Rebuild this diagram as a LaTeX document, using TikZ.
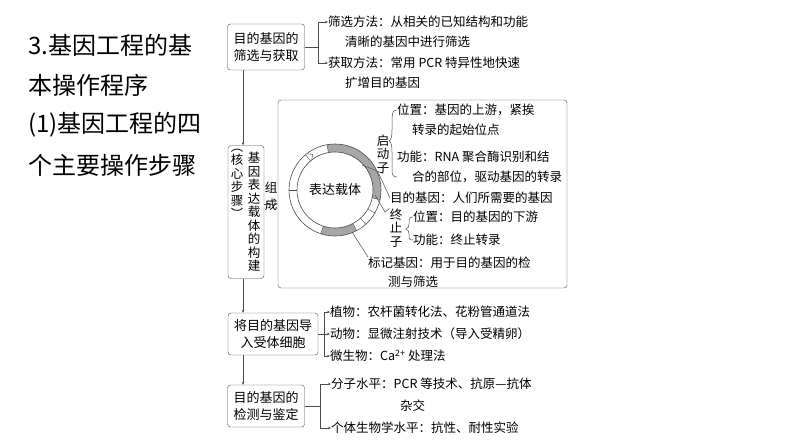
\documentclass[tikz,border=0pt]{standalone}
\usepackage{fontspec}
\setmainfont{Noto Sans CJK SC}
\usetikzlibrary{arrows.meta}
\begin{document}
\begin{tikzpicture}[x=1pt,y=-1pt,
  box/.style={draw=black!70,rounded corners=3pt,fill=white,inner sep=2pt,align=center,font=\fontsize{13}{17}\selectfont},
  txt/.style={anchor=west,inner sep=0pt,font=\fontsize{12.5}{15}\selectfont},
  ln/.style={draw=black!70,line width=0.5pt},
  arr/.style={ln,-{Stealth[length=3pt,width=2.5pt]}},
  vt/.style={inner sep=0pt,align=center,font=\fontsize{12.5}{13.5}\selectfont}]
\fill[white] (0,0) rectangle (794,447);
% title
\node[anchor=west,inner sep=0pt,font=\fontsize{24}{28}\selectfont] (t1) at (28,45) {3.基因工程的基};
\node[anchor=west,inner sep=0pt,font=\fontsize{24}{28}\selectfont] (t2) at (28,85) {本操作程序};
\node[anchor=west,inner sep=0pt,font=\fontsize{24}{28}\selectfont] (t3) at (28,125) {(1)基因工程的四};
\node[anchor=west,inner sep=0pt,font=\fontsize{24}{28}\selectfont] (t4) at (28,165) {个主要操作步骤};
% boxes
\coordinate (vx) at (243,0);
\node[box,minimum width=77pt,minimum height=46pt] (b1) at (266,47) {目的基因的\\筛选与获取};
\node[box,minimum width=36pt,minimum height=133pt] (b2) at (246,212) {};
\node[vt] (b2a) at (237,184) {︵\\核\\心\\步\\骤\\︶};
\node[vt] (b2b) at (254,212) {基\\因\\表\\达\\载\\体\\的\\构\\建};
\node[box,minimum width=90pt,minimum height=42pt] (b3) at (273,334) {将目的基因导\\入受体细胞};
\node[box,minimum width=77pt,minimum height=42pt] (b4) at (266,406) {目的基因的\\检测与鉴定};
\draw[arr] (b1.south -| vx) -- (b2.north -| vx);
\draw[arr] (b2.south -| vx) -- (b3.north -| vx);
\draw[arr] (b3.south -| vx) -- (b4.north -| vx);
% step 1 texts
\node[txt] (s1) at (328,22) {筛选方法：从相关的已知结构和功能};
\node[txt] (s1b) at (345,42) {清晰的基因中进行筛选};
\node[txt] (s2) at (328,63) {获取方法：常用 PCR 特异性地快速};
\node[txt] (s2b) at (345,83) {扩增目的基因};
\coordinate (j1) at (318,47);
\draw[ln] (b1.east) -- (j1);
\draw[arr] (j1) |- (s1.west);
\draw[arr] (j1) |- (s2.west);
% big box
\node[draw=black!70,rounded corners=3pt,minimum width=289pt,minimum height=188pt,inner sep=0pt] (big) at (422.5,194) {};
\node[vt,font=\fontsize{12.5}{17}\selectfont] (zc) at (271,196) {组\\成};
\coordinate (zy) at (0,204);
\draw[arr] (b2.east |- zy) -- (big.west |- zy);
% ring
\begin{scope}[shift={(335,190)},yscale=-1]
\fill[black!35] (100:46) arc (100:-12:46) -- (-12:38) arc (-12:100:38) -- cycle;
\fill[black!35] (-62:46) arc (-62:-108:46) -- (-108:38) arc (-108:-62:38) -- cycle;
\draw[black!70,line width=0.6pt] (0,0) circle (46) circle (38);
\foreach \a in {100,130,-12,-30,-48,-62,-108,180} \draw[black!70] (\a:38) -- (\a:46);
\draw[black!70,fill=white] (128:46) -- (122:42) -- (128:38);
\end{scope}
\node[inner sep=0pt,font=\fontsize{13}{15}\selectfont] (rl) at (335,190) {表达载体};
% promoter
\node[vt] (qd) at (383,154) {启\\动\\子};
\draw[ln] (397,110) .. controls (392,110) and (392,112) .. (392,130) .. controls (392,137) and (391,140) .. (389,141) .. controls (391,142) and (392,145) .. (392,152) -- (392,170) .. controls (392,175) and (393,177) .. (397,177);
\node[txt] (p1) at (397,110) {位置：基因的上游，紧挨};
\node[txt] (p2) at (412,130) {转录的起始位点};
\node[txt] (p3) at (397,157) {功能：RNA 聚合酶识别和结};
\node[txt] (p4) at (412,177) {合的部位，驱动基因的转录};
\draw[ln] (362,165) -- (qd.south);
% target gene
\node[txt] (tg) at (390,198) {目的基因：人们所需要的基因};
\draw[ln] (378,172) -- (tg.west);
% terminator
\node[vt] (zz) at (396,228) {终\\止\\子};
\draw[ln] (375,195) -- (385,212) -- (zz.north west);
\draw[ln] (413,217) .. controls (409,217) and (409,219) .. (409,224) .. controls (409,227) and (408,228) .. (406,229) .. controls (408,230) and (409,231) .. (409,234) .. controls (409,239) and (409,240) .. (413,240);
\node[txt] (e1) at (413,217) {位置：目的基因的下游};
\node[txt] (e2) at (413,240) {功能：终止转录};
% marker
\node[txt] (m1) at (368,263) {标记基因：用于目的基因的检};
\node[txt] (m2) at (388,282) {测与筛选};
\draw[ln] (352,232) -- (m1.north west);
% step 3
\node[txt] (c1) at (330,312) {植物：农杆菌转化法、花粉管通道法};
\node[txt] (c2) at (330,334) {动物：显微注射技术（导入受精卵）};
\node[txt] (c3) at (330,356) {微生物：Ca\textsuperscript{2+} 处理法};
\coordinate (j3) at (324,334);
\draw[ln] (b3.east) -- (j3);
\draw[arr] (j3) |- (c1.west);
\draw[arr] (j3) -- (c2.west);
\draw[arr] (j3) |- (c3.west);
% step 4
\node[txt] (d1) at (331,384) {分子水平：PCR 等技术、抗原—抗体};
\node[txt] (d1b) at (400,406) {杂交};
\node[txt] (d2) at (331,428) {个体生物学水平：抗性、耐性实验};
\coordinate (j4) at (320,406);
\draw[ln] (b4.east) -- (j4);
\draw[arr] (j4) |- (d1.west);
\draw[arr] (j4) |- (d2.west);
\end{tikzpicture}
\end{document}
